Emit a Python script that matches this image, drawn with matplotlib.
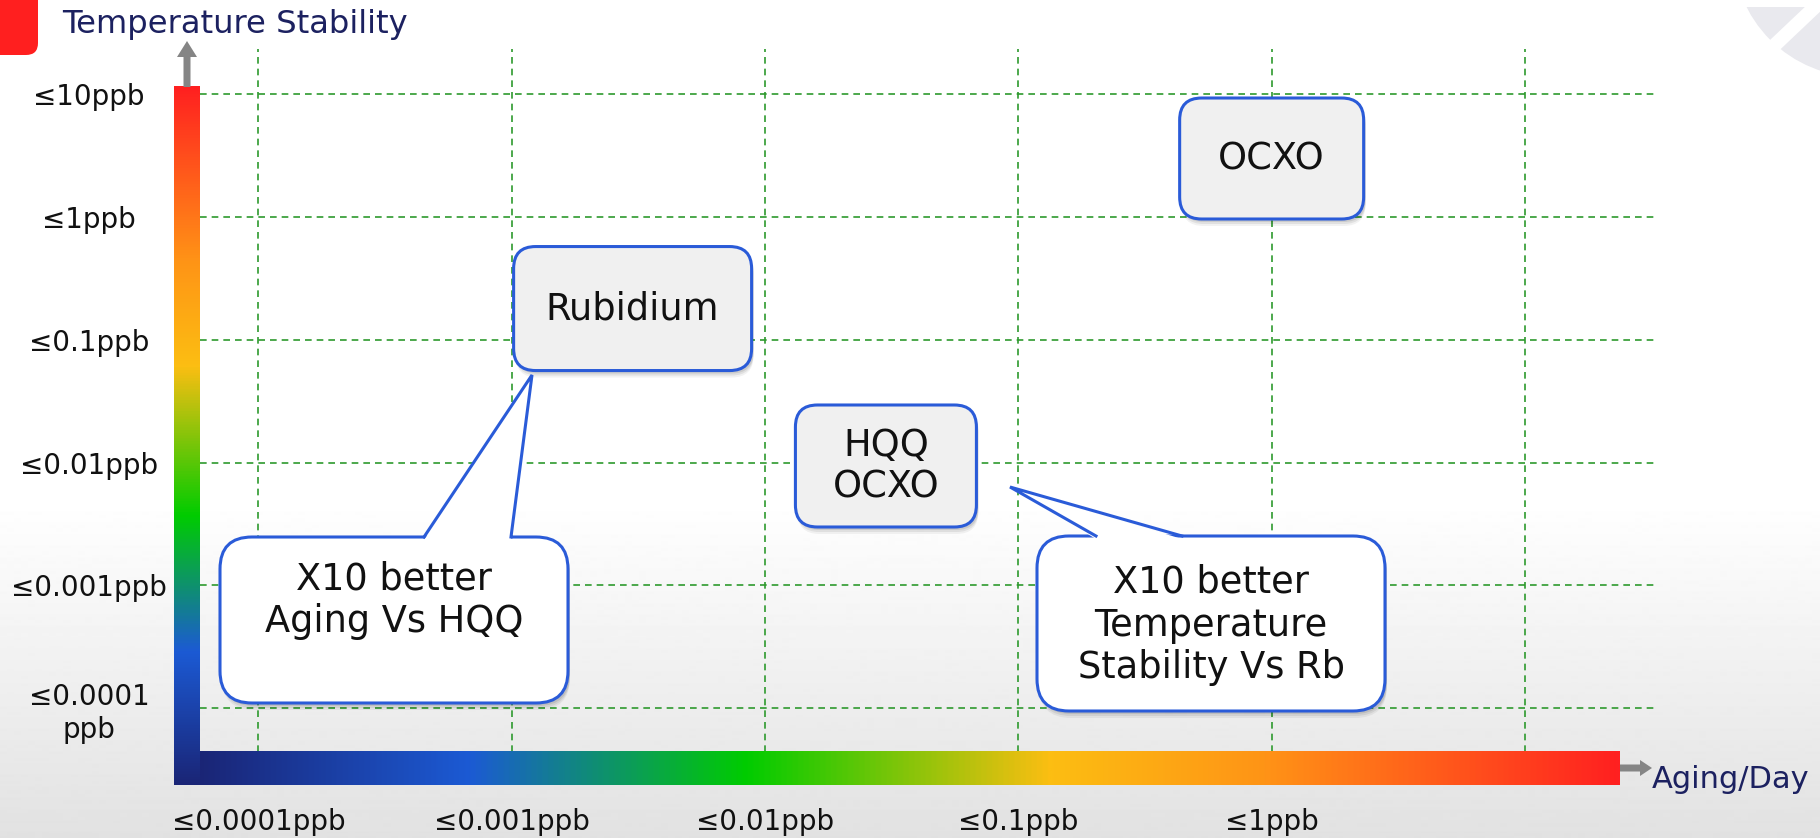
import numpy as np
import matplotlib
matplotlib.use('Agg')
import matplotlib.pyplot as plt
from matplotlib.colors import LinearSegmentedColormap
from matplotlib.patches import FancyBboxPatch, Polygon, Circle, FancyArrow, Rectangle
from matplotlib.ticker import NullLocator

# ---------------------------------------------------------------- data
aging_levels = [1e-4, 1e-3, 1e-2, 1e-1, 1, 10]
aging_labels = ['≤0.0001ppb', '≤0.001ppb', '≤0.01ppb', '≤0.1ppb', '≤1ppb', '']
stab_levels  = [10, 1, 0.1, 0.01, 0.001, 0.0001]
stab_labels  = ['≤10ppb', '≤1ppb', '≤0.1ppb', '≤0.01ppb', '≤0.001ppb', '≤0.0001\nppb']

devices      = ['OCXO', 'Rubidium', 'HQQ\nOCXO']
device_aging = [1.0, 0.003, 0.03]      # ppb/day
device_stab  = [3.0, 0.18, 0.0094]     # ppb

notes = ['X10 better\nAging Vs HQQ', 'X10 better\nTemperature\nStability Vs Rb']

# ---------------------------------------------------------------- styles
W, H = 1820, 838
navy   = '#1c2160'
blue   = '#2a5bd8'
gridc  = '#2e9a2e'
bar_cmap = LinearSegmentedColormap.from_list('bar', [
    (0.00, '#1a2576'), (0.19, '#1c5ad4'), (0.385, '#00cc00'),
    (0.60, '#fcbe12'), (0.75, '#ff9416'), (1.00, '#ff2020')])
plt.rcParams['font.family'] = ['DejaVu Sans']

def fbox(x0, y0, x1, y1):
    # pixel box (top-down) -> figure fraction
    return [x0 / W, 1 - y1 / H, (x1 - x0) / W, (y1 - y0) / H]

fig = plt.figure(figsize=(W / 100, H / 100), dpi=100)

# background: white fading to light gray at the bottom
bg = fig.add_axes([0, 0, 1, 1], zorder=0)
shade = np.ones(H)
shade[500:] = np.linspace(1.0, 0.885, H - 500)
bg.imshow(shade[:, None], cmap='gray', vmin=0, vmax=1, aspect='auto',
          extent=[0, 1, 0, 1], origin='upper')
bg.axis('off')

# data axes (log-log), only grid + tick labels
ax = fig.add_axes(fbox(200, 49, 1655, 752), zorder=1)
ax.patch.set_alpha(0)
ax.set_xscale('log')
ax.set_yscale('log')
ax.set_xlim(10 ** -4.2308, 10 ** 1.5134)
ax.set_ylim(10 ** -4.3559, 10 ** 1.3689)
ax.set_xticks(aging_levels, aging_labels)
ax.set_yticks(stab_levels, stab_labels)
ax.xaxis.set_minor_locator(NullLocator())
ax.yaxis.set_minor_locator(NullLocator())
for s in ax.spines.values():
    s.set_visible(False)
ax.tick_params(axis='both', length=0, labelsize=20, labelcolor='#111111')
ax.tick_params(axis='y', pad=80)
ax.tick_params(axis='x', pad=40)
for lab in ax.get_yticklabels():
    lab.set_ha('center')
    lab.set_multialignment('center')
ax.grid(True, color=gridc, linestyle=(0, (4, 3)), linewidth=1.2)

# overlay in pixel coordinates
ov = fig.add_axes([0, 0, 1, 1], zorder=2)
ov.patch.set_alpha(0)
ov.axis('off')

# colour bars
ov.imshow(np.linspace(0, 1, 512)[None, :], cmap=bar_cmap, aspect='auto',
          extent=[198, 1620, 785, 752], origin='upper', zorder=3)
ov.imshow(np.linspace(1, 0, 512)[:, None], cmap=bar_cmap, aspect='auto',
          extent=[174, 200, 785, 87], origin='upper', zorder=3)

# axis arrows
ov.add_patch(FancyArrow(187, 87, 0, -46, width=7, head_width=20, head_length=16,
                        length_includes_head=True, color='#858585', lw=0, zorder=3))
ov.add_patch(FancyArrow(1620, 768, 32, 0, width=7, head_width=16, head_length=12,
                        length_includes_head=True, color='#858585', lw=0, zorder=3))
ov.text(62, 24, 'Temperature Stability', fontsize=23.2, color=navy, va='center', ha='left')
ov.text(1652, 779, 'Aging/Day', fontsize=22, color=navy, va='center', ha='left')

# slide decorations
ov.add_patch(FancyBboxPatch((-20, -20), 58, 75, boxstyle='round,pad=0,rounding_size=12',
                            fc='#ff1f1f', ec='none', zorder=3))
ov.add_patch(Circle((1860, -50), 127, fc='#e9e9ee', ec='none', zorder=1))
ov.plot([1835, 1740], [-12, 78], color='white', lw=10, solid_capstyle='butt', zorder=1)
ov.add_patch(Rectangle((1700, -5), 130, 12, fc='white', ec='none', zorder=1))


def shadow(x0, y0, w, h, r):
    for k, a in [(7, 0.05), (5, 0.07), (3, 0.09)]:
        ov.add_patch(FancyBboxPatch((x0 + 2, y0 + k), w, h,
                                    boxstyle=f'round,pad=0,rounding_size={r}',
                                    fc='black', ec='none', alpha=a, zorder=4))


# device boxes, placed at their data values
box_w = [184, 238, 181]
box_h = [121, 124, 122]
for name, a, s, w, h in zip(devices, device_aging, device_stab, box_w, box_h):
    dx, dy = ax.transData.transform((a, s))
    cx, cy = dx, H - dy
    shadow(cx - w / 2, cy - h / 2, w, h, 22)
    ov.add_patch(FancyBboxPatch((cx - w / 2, cy - h / 2), w, h,
                                boxstyle='round,pad=0,rounding_size=22',
                                fc='#f0f0f0', ec=blue, lw=2.2, zorder=5))
    ov.text(cx, cy, name, ha='center', va='center', fontsize=26.5,
            color='#111111', linespacing=1.15, zorder=6)


# speech-bubble callouts
def callout(x0, y0, x1, y1, base, tip, text, ty):
    w, h = x1 - x0, y1 - y0
    shadow(x0, y0, w, h, 32)
    ov.add_patch(FancyBboxPatch((x0, y0), w, h, boxstyle='round,pad=0,rounding_size=32',
                                fc='white', ec=blue, lw=2.2, zorder=5))
    ov.add_patch(Polygon([(base[0], y0 + 3), tip, (base[1], y0 + 3)],
                         closed=True, fc='white', ec='none', zorder=6))
    ov.plot([base[0], tip[0], base[1]], [y0, tip[1], y0], color=blue, lw=2.2,
            solid_joinstyle='miter', zorder=7)
    ov.text((x0 + x1) / 2, ty, text, ha='center', va='center', fontsize=26.5,
            color='#111111', linespacing=1.2, zorder=8)


callout(220, 537, 568, 703, (424, 511), (532, 375), notes[0], 600)
callout(1037, 536, 1385, 711, (1096, 1182), (1010, 487), notes[1], 625)

ov.set_xlim(0, W)
ov.set_ylim(H, 0)

fig.savefig('out.png', dpi=100)
